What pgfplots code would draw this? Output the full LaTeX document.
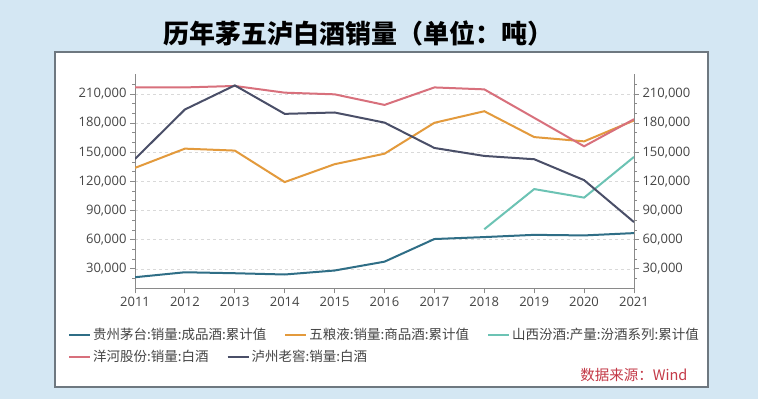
\documentclass[border=0pt]{standalone}
\usepackage{fontspec}
\usepackage{pgfplots}
\pgfplotsset{compat=1.18}
\setmainfont{Open Sans}
\newfontfamily\cjk{Noto Sans CJK SC}
\definecolor{bgblue}{HTML}{D4E7F3}
\definecolor{panelgray}{HTML}{6E7880}
\definecolor{axisgray}{HTML}{8A8A8A}
\definecolor{gridgray}{HTML}{D9D9D9}
\definecolor{labelgray}{HTML}{454545}
\definecolor{cmaotai}{HTML}{2F6E86}
\definecolor{cwly}{HTML}{E39A3C}
\definecolor{cfen}{HTML}{6CC3B4}
\definecolor{cyh}{HTML}{D8707C}
\definecolor{clz}{HTML}{4A4F68}
\definecolor{cred}{HTML}{C43A48}
\pgfplotsset{
  base/.style={
    scale only axis, width=499pt, height=213.8pt,
    at={(135pt,110.7pt)}, anchor=south west,
    xmin=2011, xmax=2021, ymin=10000, ymax=230000,
    xtick={2011,...,2021}, minor x tick num=3,
    ytick={30000,60000,...,210000},
    minor ytick={20000,40000,50000,70000,80000,100000,110000,130000,140000,160000,170000,190000,200000,220000},
    scaled y ticks=false,
    tick align=outside,
    major tick length=5pt, minor tick length=3pt,
    every tick/.style={axisgray, line width=0.8pt},
    axis line style={axisgray, line width=1pt},
    tick label style={font=\fontsize{13}{13}\selectfont, text=labelgray},
    /pgf/number format/.cd, fixed, precision=0, 1000 sep={,}, assume math mode=true, /pgfplots/.cd,
    xticklabel={\pgfmathprintnumber[fixed,1000 sep={}]{\tick}},
    legend image code/.code={\draw[#1] (0pt,0pt) -- (21pt,0pt);},
    legend style={draw=none, fill=none, inner sep=0pt, anchor=west,
      font=\cjk\fontsize{13.5}{13.5}\selectfont, text=labelgray,
      /tikz/every even column/.append style={column sep=16pt}},
    legend cell align=left,
  }
}
\begin{document}
\begin{tikzpicture}[x=1pt,y=1pt]
\fill[bgblue] (0,0) rectangle (758,399);
\fill[white] (55,12) rectangle (708,347);
\draw[panelgray, line width=1.5pt] (55,12) rectangle (708,347);
\node[font=\cjk\bfseries\fontsize{26}{26}\selectfont] at (358,366) {历年茅五泸白酒销量（单位：吨）};
\begin{axis}[base,
  axis x line*=bottom, axis y line*=left,
  ymajorgrids, major grid style={dash pattern=on 3pt off 3pt, gridgray, line width=0.6pt},
  legend columns=3,
  legend style={at={(-0.1343,-0.2184)}},
]
\addplot[cmaotai, line width=2pt] coordinates {(2011,21400)(2012,26500)(2013,25500)(2014,24200)(2015,28300)(2016,37400)(2017,60700)(2018,62700)(2019,65000)(2020,64400)(2021,66800)};
\addlegendentry{贵州茅台:销量:成品酒:累计值}
\addplot[cwly, line width=2pt] coordinates {(2011,133900)(2012,153700)(2013,151700)(2014,119300)(2015,137700)(2016,148500)(2017,180300)(2018,192200)(2019,165600)(2020,161200)(2021,182700)};
\addlegendentry{五粮液:销量:商品酒:累计值}
\addplot[cfen, line width=2pt] coordinates {(2018,70800)(2019,112100)(2020,103300)(2021,145200)};
\addlegendentry{山西汾酒:产量:汾酒系列:累计值}
\end{axis}
\begin{axis}[base,
  axis y line*=right, axis x line=none,
  legend columns=2,
  legend style={at={(-0.1343,-0.3213)}},
]
\addplot[cyh, line width=2pt] coordinates {(2011,216700)(2012,216700)(2013,218200)(2014,211300)(2015,209600)(2016,198700)(2017,216700)(2018,214700)(2019,185400)(2020,156100)(2021,184000)};
\addlegendentry{洋河股份:销量:白酒}
\addplot[clz, line width=2pt] coordinates {(2011,143100)(2012,194000)(2013,218800)(2014,189500)(2015,190900)(2016,180500)(2017,154400)(2018,146200)(2019,142800)(2020,121300)(2021,78100)};
\addlegendentry{泸州老窖:销量:白酒}
\end{axis}
\node[font=\cjk\fontsize{14.5}{14.5}\selectfont, text=cred, anchor=east] at (691,24) {数据来源：Wind};
\end{tikzpicture}
\end{document}
